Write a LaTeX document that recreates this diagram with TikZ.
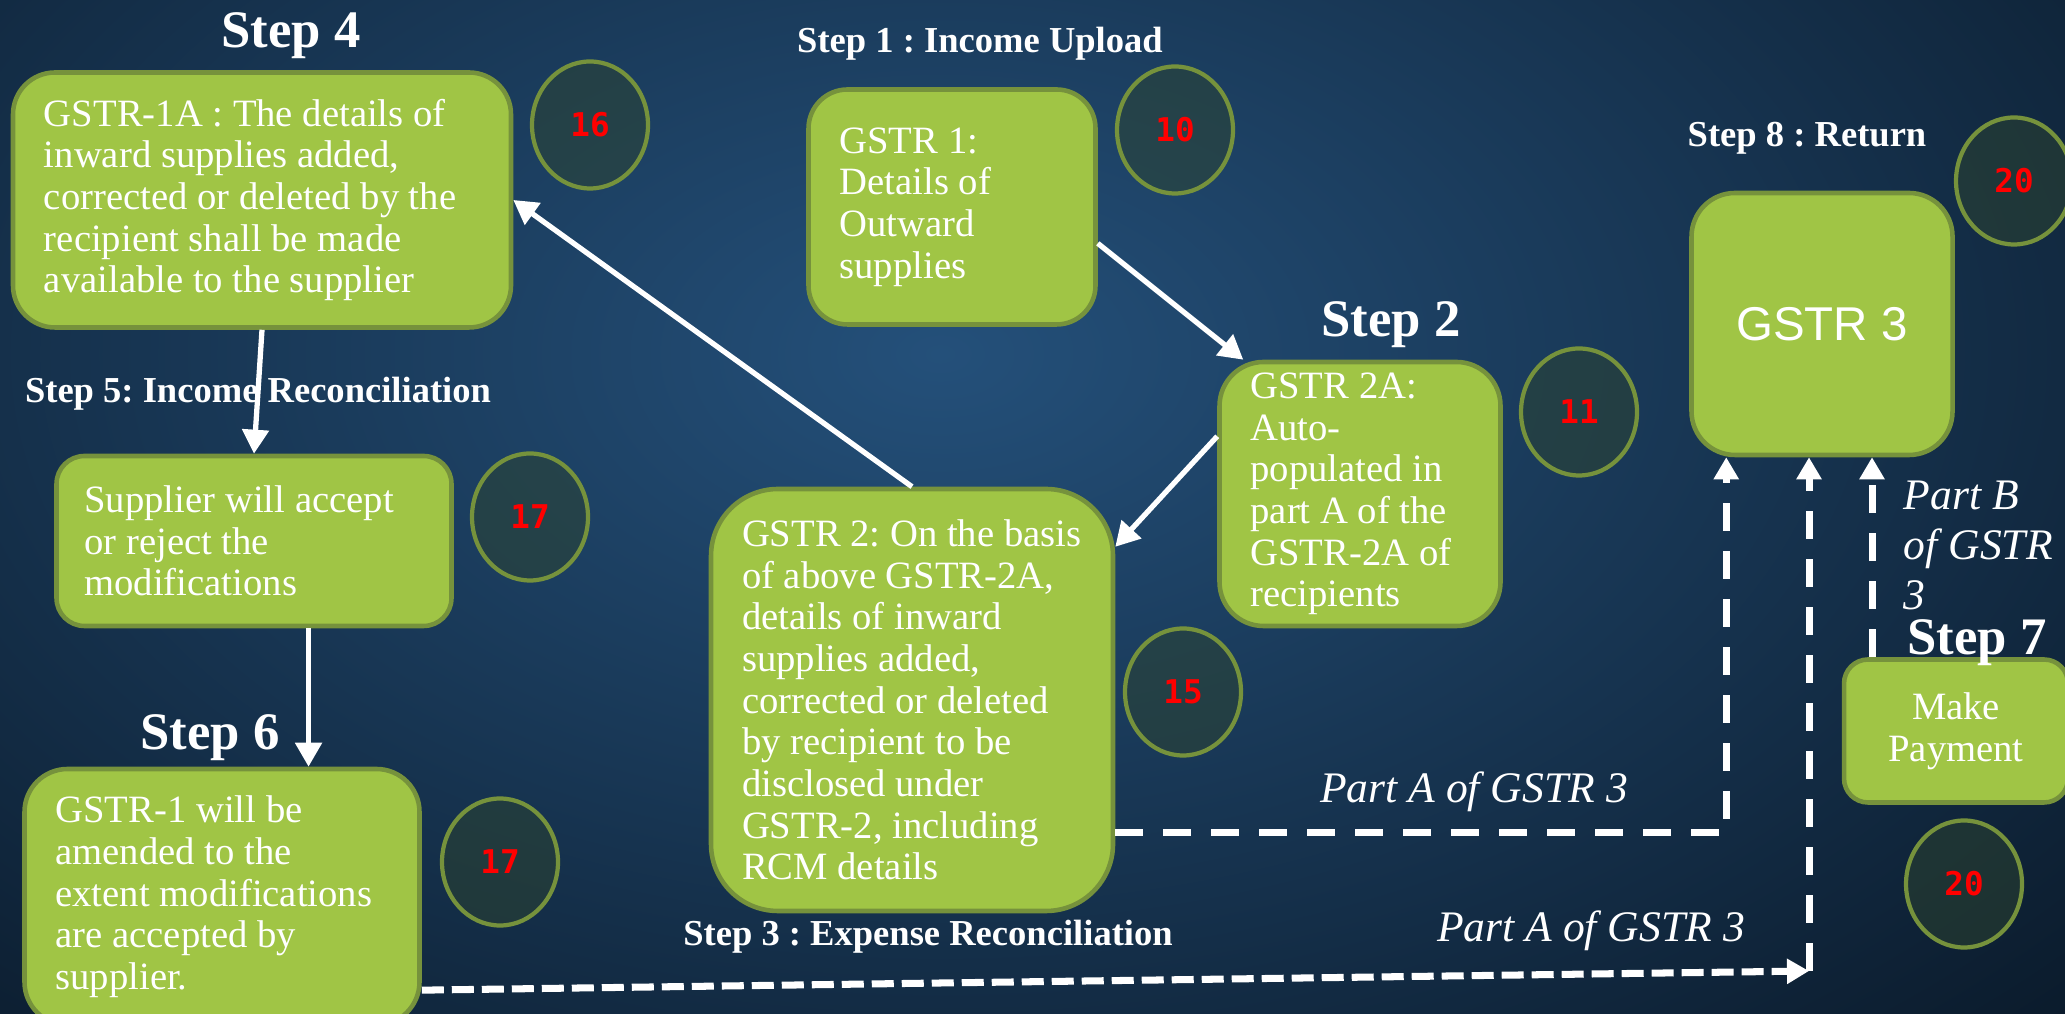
\documentclass[tikz,border=0pt]{standalone}
\usepackage{fontspec}
\setmainfont{Liberation Serif}
\newfontfamily\numfont{DejaVu Sans Mono}[BoldFont={DejaVu Sans Mono Bold}]
\newfontfamily\titlesans{Liberation Sans}
\frenchspacing
\usetikzlibrary{shapes.geometric, arrows.meta}
\definecolor{boxgreen}{RGB}{160,197,69}
\definecolor{boxedge}{RGB}{118,146,60}
\definecolor{bglight}{RGB}{36,80,122}
\definecolor{bgdark}{RGB}{7,19,32}
\definecolor{ovalfill}{RGB}{45,68,48}
\tikzset{
	stepbox/.style = {
		draw=boxedge,
		fill=boxgreen,
		line width=1.3pt,
		text=white,
		align=flush left,
		inner xsep=0.31cm,
		inner ysep=0pt,
		font=\fontsize{11}{11.85}\selectfont
	},
	countoval/.style = {
		ellipse,
		draw=boxedge,
		line width=1.2pt,
		fill=ovalfill,
		fill opacity=0.5,
		text opacity=1,
		text=red,
		minimum width=1.16cm,
		minimum height=1.27cm,
		inner sep=0pt,
		font=\numfont\bfseries\fontsize{9.3}{11}\selectfont
	},
	steptitle/.style = {
		text=white,
		anchor=base,
		inner sep=0pt,
		font=\bfseries\fontsize{15}{18}\selectfont
	},
	stepnote/.style = {
		text=white,
		anchor=base,
		inner sep=0pt,
		font=\bfseries\fontsize{10.4}{12.5}\selectfont
	},
	partlabel/.style = {
		text=white,
		inner sep=0pt,
		font=\itshape\fontsize{12.4}{14.2}\selectfont
	},
	dashlink/.style = {
		white,
		line width=2pt,
		dash pattern=on 0.28cm off 0.2cm,
		-{Triangle[width=0.24cm,length=0.22cm]}
	}
}
\tikzstyle{arrow} = [-{Triangle[width=0.26cm,length=0.24cm]}, white, line width=1.5pt]

\begin{document}
\begin{tikzpicture}
	\useasboundingbox (0,0) rectangle (20.65,10.14);
	\fill[bgdark] (0,0) rectangle (20.65,10.14);
	\shade[inner color=bglight, outer color=bgdark] (9.4,6.6) ellipse (18 and 11);

	\node[stepbox, text width=4.36cm, minimum height=2.55cm, rounded corners=0.42cm] (gstronea) at (2.62,8.14) {GSTR-1A : The details of\\ inward supplies added,\\ corrected or deleted by the\\ recipient shall be made\\ available to the supplier};
	\node[stepbox, text width=2.25cm, minimum height=2.35cm, rounded corners=0.39cm] (gstrone) at (9.52,8.07) {GSTR 1:\\ Details of\\ Outward\\ supplies};
	\node[stepbox, text width=2.19cm, minimum height=2.64cm, rounded corners=0.44cm] (gstrtwoa) at (13.60,5.20) {GSTR 2A:\\ Auto-\\ populated in\\ part A of the\\ GSTR-2A of\\ recipients};
	\node[stepbox, align=center, minimum width=2.61cm, minimum height=2.62cm, rounded corners=0.435cm, font=\titlesans\fontsize{13.5}{16}\selectfont] (gstrthree) at (18.22,6.90) {GSTR 3};
	\node[stepbox, inner xsep=0.28cm, text width=3.39cm, minimum height=1.70cm, rounded corners=0.28cm] (supplier) at (2.54,4.73) {Supplier will accept\\ or reject the\\ modifications};
	\node[stepbox, text width=3.40cm, minimum height=4.22cm, rounded corners=0.67cm] (gstrtwo) at (9.12,3.14) {GSTR 2: On the basis\\ of above GSTR-2A,\\ details of inward\\ supplies added,\\ corrected or deleted\\ by recipient to be\\ disclosed under\\ GSTR-2, including\\ RCM details};
	\node[stepbox, text width=3.33cm, minimum height=2.56cm, rounded corners=0.43cm] (gstroneb) at (2.22,1.17) {GSTR-1 will be\\ amended to the\\ extent modifications\\ are accepted by\\ supplier.};
	\node[stepbox, align=center, minimum width=2.24cm, minimum height=1.43cm, rounded corners=0.24cm] (payment) at (19.56,2.83) {Make\\ Payment};

	\node[countoval] (ovalsixteen) at (5.90,8.89) {16};
	\node[countoval] (ovalten) at (11.75,8.84) {10};
	\node[countoval] (ovaleleven) at (15.79,6.02) {11};
	\node[countoval] (ovaltwentya) at (20.14,8.33) {20};
	\node[countoval] (ovalseventeena) at (5.30,4.97) {17};
	\node[countoval] (ovalseventeenb) at (5.00,1.52) {17};
	\node[countoval] (ovalfifteen) at (11.83,3.22) {15};
	\node[countoval] (ovaltwentyb) at (19.64,1.30) {20};

	\node[steptitle] (stepfour) at (2.91,9.66) {Step 4};
	\node[steptitle] (steptwo) at (13.91,6.77) {Step 2};
	\node[steptitle] (stepsix) at (2.10,2.64) {Step 6};
	\node[steptitle] (stepseven) at (19.77,3.59) {Step 7};
	\node[stepnote] (stepone) at (9.80,9.61) {Step 1 : Income Upload};
	\node[stepnote] (stepeight) at (18.07,8.67) {Step 8 : Return};
	\node[stepnote] (stepfive) at (2.58,6.11) {Step 5: Income Reconciliation};
	\node[stepnote] (stepthree) at (9.28,0.68) {Step 3 : Expense Reconciliation};

	\node[partlabel, anchor=base] (partaone) at (14.74,2.11) {Part A of GSTR 3};
	\node[partlabel, anchor=base] (partatwo) at (15.91,0.72) {Part A of GSTR 3};
	\node[partlabel, anchor=north west, align=left] (partb) at (19.03,5.34) {Part B\\ of GSTR\\ 3};

	\draw[arrow] (gstrone.-14) -- (gstrtwoa.131);
	\draw[arrow] (gstrtwoa.158) -- (gstrtwo.37);
	\draw[arrow] (gstrtwo.north) -- (gstronea.east);
	\draw[arrow] (gstronea.south) -- (supplier.north);
	\draw[arrow] (supplier.-58) -- (supplier.-58 |- gstroneb.north);

	\coordinate (partacorner) at (18.09,0.43);
	\draw[dashlink] (gstrtwo.-33) -| ([xshift=3.7mm]gstrthree.south west);
	\draw[dashlink, dash pattern=on 0.22cm off 0.08cm] (gstroneb.-25) -- (partacorner);
	\draw[dashlink] (partacorner) -- (partacorner |- gstrthree.south);
	\draw[dashlink] ([xshift=-8.4mm]payment.north) -- ([xshift=-8.4mm]payment.north |- gstrthree.south);
\end{tikzpicture}
\end{document}
